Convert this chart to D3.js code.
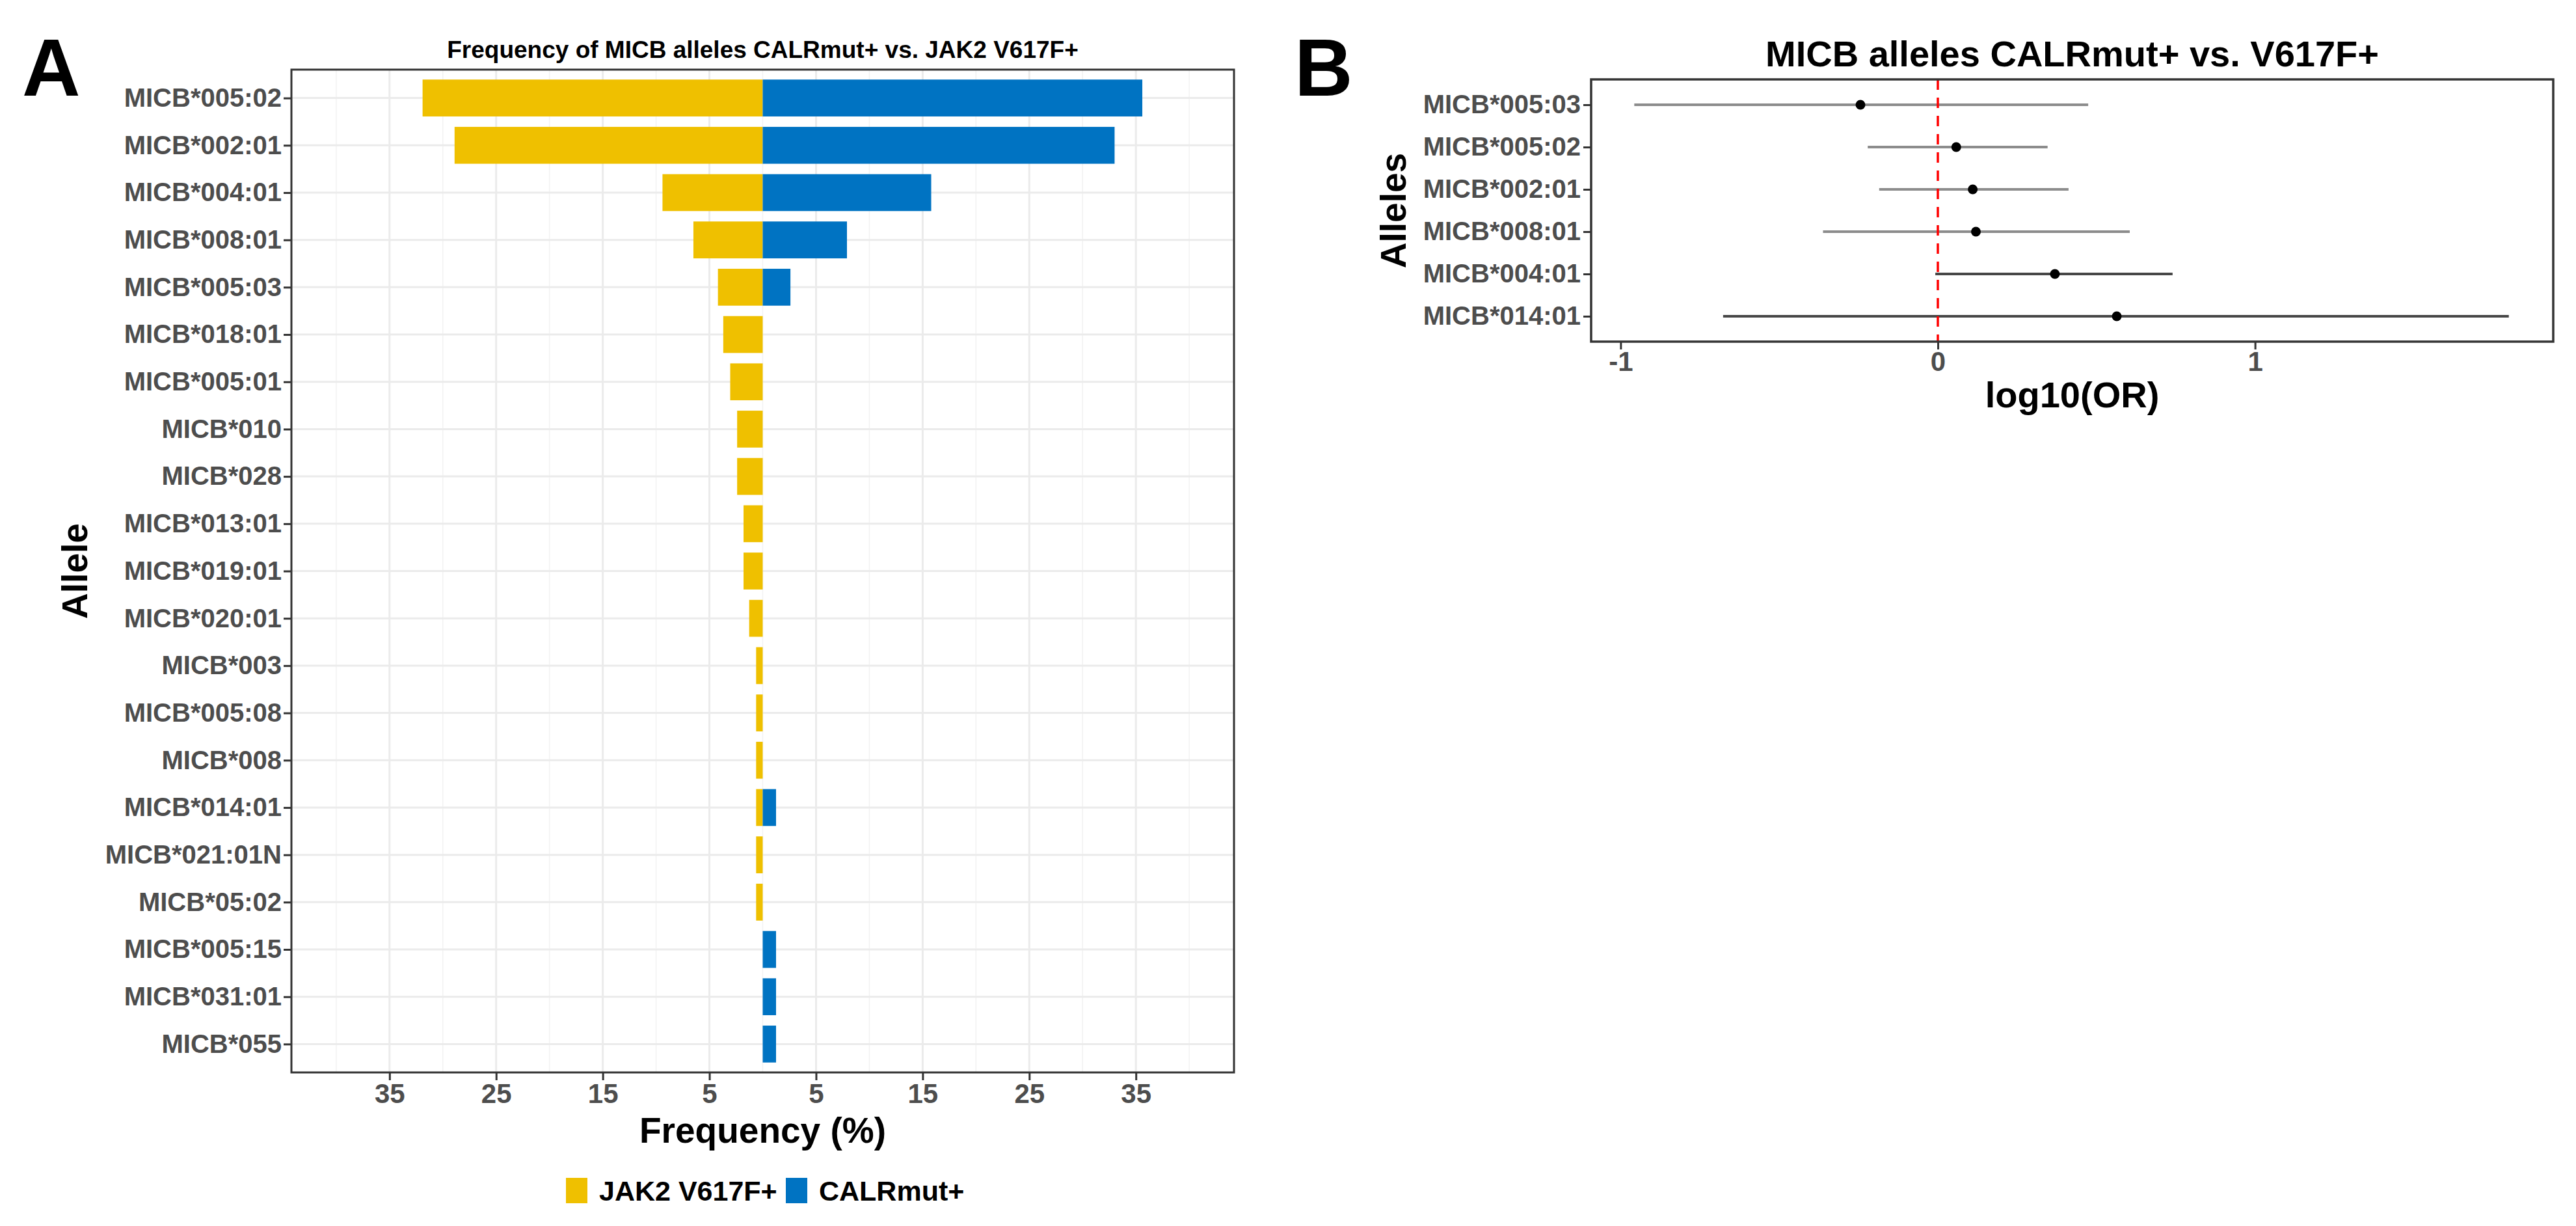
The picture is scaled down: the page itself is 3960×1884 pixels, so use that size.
<!DOCTYPE html>
<html>
<head>
<meta charset="utf-8">
<script src="https://cdn.jsdelivr.net/npm/d3@7"></script>
<style>
  body { margin: 0; background: #fff; }
  text { font-family: "Liberation Sans", Arial, sans-serif; }
</style>
</head>
<body>
<svg id="fig" width="3960" height="1884"></svg>
<script>
// Panel A: allele frequencies (%) per group
var alleles = ['MICB*005:02', 'MICB*002:01', 'MICB*004:01', 'MICB*008:01', 'MICB*005:03',
               'MICB*018:01', 'MICB*005:01', 'MICB*010', 'MICB*028', 'MICB*013:01',
               'MICB*019:01', 'MICB*020:01', 'MICB*003', 'MICB*005:08', 'MICB*008',
               'MICB*014:01', 'MICB*021:01N', 'MICB*05:02', 'MICB*005:15', 'MICB*031:01', 'MICB*055'];
var jak2Freq = [31.9, 28.9, 9.4, 6.5, 4.2, 3.7, 3.05, 2.4, 2.4, 1.8, 1.8, 1.27,
                0.62, 0.62, 0.62, 0.62, 0.62, 0.62, 0, 0, 0];
var calrFreq = [35.6, 33.0, 15.8, 7.9, 2.6, 0, 0, 0, 0, 0, 0, 0,
                0, 0, 0, 1.25, 0, 0, 1.25, 1.25, 1.25];
var groups = ['JAK2 V617F+', 'CALRmut+'];
var freqTicks = [-35, -25, -15, -5, 5, 15, 25, 35];
var freqMinor = [-40, -30, -20, -10, 0, 10, 20, 30, 40];

// Panel B: log10(OR) with 95% CI
var orAlleles = ['MICB*005:03', 'MICB*005:02', 'MICB*002:01', 'MICB*008:01', 'MICB*004:01', 'MICB*014:01'];
var orEst  = [-0.244, 0.058, 0.110, 0.120, 0.369, 0.564];
var orLow  = [-0.957, -0.221, -0.185, -0.362, -0.008, -0.677];
var orHigh = [0.474, 0.346, 0.412, 0.605, 0.740, 1.800];
var orGroup = [0, 0, 0, 0, 1, 1];
var orTicks = [-1, 0, 1];

var svg = d3.select('#fig');

var colour = d3.scaleOrdinal()
               .domain(groups)
               .range(['#EFC000', '#0073C2']);

// ---------- Panel A ----------
var a = {left: 448, right: 1897, top: 107, bottom: 1648};

var xA = d3.scaleLinear()
           .domain([-44.2, 44.2])
           .range([a.left, a.right]);

var yA = d3.scalePoint()
           .domain(alleles)
           .range([a.top, a.bottom])
           .padding(0.6);

var barH = yA.step() * 0.78;

var gA = svg.append('g');

// grid
gA.selectAll('.minor')
  .data(freqMinor)
  .enter().append('line')
  .attr('x1', function(d) { return xA(d); })
  .attr('x2', function(d) { return xA(d); })
  .attr('y1', a.top).attr('y2', a.bottom)
  .attr('stroke', '#F2F2F2')
  .attr('stroke-width', 1.5);

gA.selectAll('.major')
  .data(freqTicks)
  .enter().append('line')
  .attr('x1', function(d) { return xA(d); })
  .attr('x2', function(d) { return xA(d); })
  .attr('y1', a.top).attr('y2', a.bottom)
  .attr('stroke', '#EBEBEB')
  .attr('stroke-width', 3);

gA.selectAll('.hgrid')
  .data(alleles)
  .enter().append('line')
  .attr('x1', a.left).attr('x2', a.right)
  .attr('y1', function(d) { return yA(d); })
  .attr('y2', function(d) { return yA(d); })
  .attr('stroke', '#EBEBEB')
  .attr('stroke-width', 3);

// bars: JAK2 to the left, CALR to the right
gA.selectAll('.jak2')
  .data(alleles)
  .enter().append('rect')
  .attr('x', function(d, i) { return xA(-jak2Freq[i]); })
  .attr('width', function(d, i) { return xA(0) - xA(-jak2Freq[i]); })
  .attr('y', function(d) { return yA(d) - barH / 2; })
  .attr('height', barH)
  .attr('fill', colour(groups[0]));

gA.selectAll('.calr')
  .data(alleles)
  .enter().append('rect')
  .attr('x', xA(0))
  .attr('width', function(d, i) { return xA(calrFreq[i]) - xA(0); })
  .attr('y', function(d) { return yA(d) - barH / 2; })
  .attr('height', barH)
  .attr('fill', colour(groups[1]));

gA.append('rect')
  .attr('x', a.left).attr('y', a.top)
  .attr('width', a.right - a.left).attr('height', a.bottom - a.top)
  .attr('fill', 'none')
  .attr('stroke', '#333333')
  .attr('stroke-width', 3);

var xAxisA = d3.axisBottom(xA)
               .tickValues(freqTicks)
               .tickFormat(function(d) { return Math.abs(d); })
               .tickSizeInner(12)
               .tickSizeOuter(0)
               .tickPadding(5);

var yAxisA = d3.axisLeft(yA)
               .tickSizeInner(12)
               .tickSizeOuter(0)
               .tickPadding(3);

gA.append('g')
  .attr('class', 'axis')
  .attr('transform', 'translate(0,' + a.bottom + ')')
  .call(xAxisA)
  .attr('font-size', 42);

gA.append('g')
  .attr('class', 'axis')
  .attr('transform', 'translate(' + a.left + ',0)')
  .call(yAxisA)
  .attr('font-size', 40);

gA.append('text')
  .attr('x', (a.left + a.right) / 2).attr('y', 89)
  .attr('text-anchor', 'middle')
  .attr('font-size', 37).attr('font-weight', 'bold')
  .text('Frequency of MICB alleles CALRmut+ vs. JAK2 V617F+');

gA.append('text')
  .attr('x', (a.left + a.right) / 2).attr('y', 1756)
  .attr('text-anchor', 'middle')
  .attr('font-size', 55).attr('font-weight', 'bold')
  .text('Frequency (%)');

gA.append('text')
  .attr('transform', 'translate(134,' + (a.top + a.bottom) / 2 + ') rotate(-90)')
  .attr('text-anchor', 'middle')
  .attr('font-size', 55).attr('font-weight', 'bold')
  .text('Allele');

// legend
var legend = gA.selectAll('.legend')
               .data(groups)
               .enter().append('g')
               .attr('transform', function(d, i) { return 'translate(' + [870, 1208][i] + ',1810)'; });

legend.append('rect')
      .attr('width', 33).attr('height', 39)
      .attr('fill', function(d) { return colour(d); });

legend.append('text')
      .attr('x', 51).attr('y', 20)
      .attr('dominant-baseline', 'central')
      .attr('font-size', 43).attr('font-weight', 'bold')
      .text(function(d) { return d; });

svg.append('text')
   .attr('x', 34).attr('y', 147)
   .attr('font-size', 124).attr('font-weight', 'bold')
   .text('A');

// ---------- Panel B ----------
var b = {left: 2446, right: 3925, top: 122, bottom: 525};

var xB = d3.scaleLinear()
           .domain([-1.093, 1.94])
           .range([b.left, b.right]);

var yB = d3.scalePoint()
           .domain(orAlleles)
           .range([b.top, b.bottom])
           .padding(0.6);

var lineColour = d3.scaleOrdinal()
                   .domain([0, 1])
                   .range(['#8C8C8C', '#474747']);

var gB = svg.append('g');

gB.selectAll('.ci')
  .data(orAlleles)
  .enter().append('line')
  .attr('x1', function(d, i) { return xB(orLow[i]); })
  .attr('x2', function(d, i) { return xB(orHigh[i]); })
  .attr('y1', function(d) { return yB(d); })
  .attr('y2', function(d) { return yB(d); })
  .attr('stroke', function(d, i) { return lineColour(orGroup[i]); })
  .attr('stroke-width', 4);

gB.append('line')
  .attr('x1', xB(0)).attr('x2', xB(0))
  .attr('y1', b.top).attr('y2', b.bottom)
  .attr('stroke', '#FF0000')
  .attr('stroke-width', 3.5)
  .attr('stroke-dasharray', '16,12');

gB.selectAll('.pt')
  .data(orAlleles)
  .enter().append('circle')
  .attr('cx', function(d, i) { return xB(orEst[i]); })
  .attr('cy', function(d) { return yB(d); })
  .attr('r', 7.5)
  .attr('fill', '#000');

gB.append('rect')
  .attr('x', b.left).attr('y', b.top)
  .attr('width', b.right - b.left).attr('height', b.bottom - b.top)
  .attr('fill', 'none')
  .attr('stroke', '#333333')
  .attr('stroke-width', 3.5);

var xAxisB = d3.axisBottom(xB)
               .tickValues(orTicks)
               .tickFormat(function(d) { return String(d); })
               .tickSizeInner(12)
               .tickSizeOuter(0)
               .tickPadding(3);

var yAxisB = d3.axisLeft(yB)
               .tickSizeInner(12)
               .tickSizeOuter(0)
               .tickPadding(4);

gB.append('g')
  .attr('class', 'axis')
  .attr('transform', 'translate(0,' + b.bottom + ')')
  .call(xAxisB)
  .attr('font-size', 42);

gB.append('g')
  .attr('class', 'axis')
  .attr('transform', 'translate(' + b.left + ',0)')
  .call(yAxisB)
  .attr('font-size', 40);

gB.append('text')
  .attr('x', (b.left + b.right) / 2).attr('y', 102)
  .attr('text-anchor', 'middle')
  .attr('font-size', 56).attr('font-weight', 'bold')
  .text('MICB alleles CALRmut+ vs. V617F+');

gB.append('text')
  .attr('x', (b.left + b.right) / 2).attr('y', 626)
  .attr('text-anchor', 'middle')
  .attr('font-size', 56).attr('font-weight', 'bold')
  .text('log10(OR)');

gB.append('text')
  .attr('transform', 'translate(2161,' + (b.top + b.bottom) / 2 + ') rotate(-90)')
  .attr('text-anchor', 'middle')
  .attr('font-size', 55).attr('font-weight', 'bold')
  .text('Alleles');

svg.append('text')
   .attr('x', 1990).attr('y', 147)
   .attr('font-size', 124).attr('font-weight', 'bold')
   .text('B');

// shared axis styling
svg.selectAll('.axis').attr('font-family', null);
svg.selectAll('.axis .domain').remove();
svg.selectAll('.axis .tick line')
   .attr('stroke', '#333333')
   .attr('stroke-width', 3);
svg.selectAll('.axis .tick text')
   .attr('fill', '#4D4D4D')
   .attr('font-weight', 'bold');
</script>
</body>
</html>
